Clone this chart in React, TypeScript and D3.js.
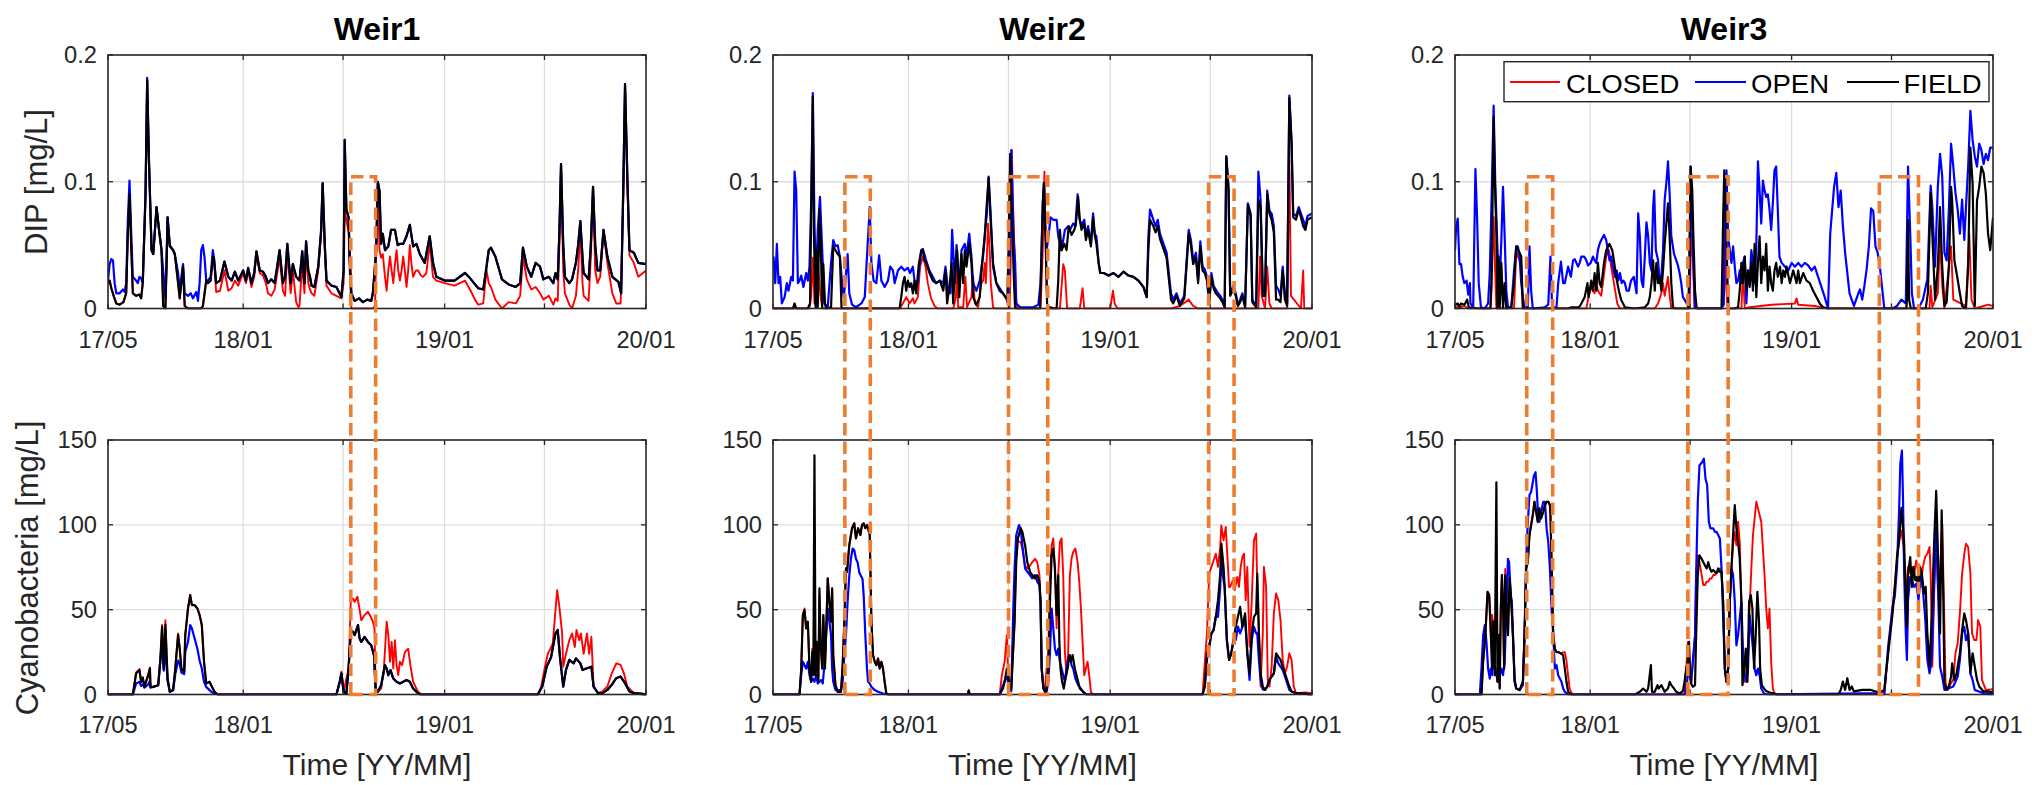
import React from 'react';
import * as d3 from 'd3';

type P = [number, number];

// time axis: values are [days since 2017-05-01, value]
const START = new Date(2017, 4, 1);
const END = new Date(2020, 0, 1);
const X_TICKS = [new Date(2017, 4, 1), new Date(2018, 0, 1), new Date(2018, 6, 1), new Date(2019, 0, 1), new Date(2019, 6, 1), new Date(2020, 0, 1)];
const X_TICK_LABELS = ['17/05', '18/01', '', '19/01', '', '20/01'];
const DIP_TICKS = [0, 0.1, 0.2];
const DIP_TICK_LABELS = ['0', '0.1', '0.2'];
const CYANO_TICKS = [0, 50, 100, 150];
const CYANO_TICK_LABELS = ['0', '50', '100', '150'];
const WEIRS = ['Weir1', 'Weir2', 'Weir3'];
const SERIES = ['CLOSED', 'OPEN', 'FIELD'];
const SERIES_COLORS = ['#ff0000', '#0000ff', '#000000'];

// ---------------- Weir1 DIP ----------------
const W1_DIP_FIELD: P[] = [[0,0.02],[3,0.022],[6,0.016],[11,0.009],[15,0.004],[21,0.003],[28,0.005],[33,0.012],[36,0.06],[39,0.09],[42,0.05],[45,0.012],[51,0.01],[57,0.011],[60,0.008],[63,0.02],[68,0.09],[71,0.18],[74,0.12],[79,0.046],[82,0.043],[88,0.08],[93,0.06],[97,0.046],[100,0.002],[104,0],[106,0.03],[108,0.072],[112,0.049],[118,0.046],[121,0.043],[127,0.02],[130,0.008],[136,0.033],[139,0.002],[145,0],[169,0],[172,0.002],[178,0.022],[181,0.02],[186,0.022],[190,0.041],[192,0.04],
[196,0.02],[203,0.022],[211,0.037],[218,0.025],[224,0.022],[230,0.029],[236,0.022],[245,0.03],[250,0.022],[254,0.032],[260,0.02],[265,0.028],[269,0.045],[275,0.03],[281,0.029],[286,0.025],[290,0.02],[296,0.023],[302,0.02],[311,0.046],[317,0.02],[321,0.025],[325,0.051],[331,0.02],[335,0.035],[341,0.025],[347,0.022],[352,0.045],[356,0.02],[359,0.053],[363,0.03],[366,0.025],[369,0.018],[374,0.017],[381,0.033],[386,0.06],[389,0.099],[393,0.049],[396,0.022],[405,0.018],[414,0.017],[423,0.009],[427,0.03],[429,0.133],[432,0.078],[436,0.072],[438,0.041],[441,0.012],[447,0.006],[455,0.008],[462,0.005],[470,0.007],[477,0.006],[480,0.012],[486,0.046],[489,0.1],[492,0.093],[495,0.051],[498,0.059],[502,0.046],[508,0.049],[513,0.062],[520,0.062],[525,0.05],[529,0.051],[535,0.051],[541,0.057],[547,0.066],[553,0.049],[559,0.051],[565,0.043],[574,0.036],[583,0.057],[589,0.036],[595,0.025],[610,0.022],[628,0.022],[647,0.028],[656,0.024],[671,0.016],[680,0.015],[686,0.033],[690,0.046],[694,0.048],[702,0.041],[714,0.023],[726,0.019],[739,0.017],[747,0.02],[752,0.048],[759,0.033],[767,0.025],[775,0.036],[783,0.033],[789,0.023],[799,0.025],[807,0.02],[811,0.028],[815,0.023],[818,0.06],[821,0.114],[825,0.05],[828,0.025],[836,0.02],[841,0.023],[848,0.036],[852,0.05],[856,0.069],[860,0.04],[862,0.028],[871,0.023],[875,0.05],[879,0.096],[883,0.05],[887,0.03],[892,0.03],[898,0.062],[905,0.041],[914,0.025],[925,0.021],[930,0.012],[934,0.1],[937,0.177],[941,0.107],[945,0.046],[953,0.044],[961,0.036],[975,0.035]];

const W1_DIP_OPEN: P[] = [[0,0.022],[3,0.035],[6,0.039],[9,0.038],[12,0.02],[15,0.012],[21,0.012],[27,0.015],[30,0.013],[33,0.02],[36,0.07],[39,0.101],[42,0.06],[45,0.025],[51,0.022],[54,0.02],[57,0.025],[60,0.024],[63,0.02],[68,0.09],[71,0.182],[74,0.12],[79,0.046],[82,0.043],[88,0.08],[93,0.06],[97,0.046],[100,0.03],[104,0.008],[108,0.072],[112,0.05],[118,0.046],[121,0.043],[127,0.028],[130,0.015],[136,0.035],[139,0.012],[145,0.01],[150,0.012],[154,0.008],[160,0.013],[163,0.006],[166,0.02],[169,0.046],[172,0.05],[175,0.04],[178,0.022],[181,0.022],[186,0.025],[190,0.046],[192,0.04],
[196,0.02],[203,0.022],[211,0.037],[218,0.025],[224,0.022],[230,0.029],[236,0.022],[245,0.03],[250,0.022],[254,0.032],[260,0.02],[265,0.028],[269,0.045],[275,0.03],[281,0.029],[286,0.025],[290,0.02],[296,0.023],[302,0.02],[311,0.046],[317,0.02],[321,0.025],[325,0.051],[331,0.02],[335,0.035],[341,0.025],[347,0.022],[352,0.045],[356,0.02],[359,0.053],[363,0.03],[366,0.025],[369,0.018],[374,0.017],[381,0.033],[386,0.06],[389,0.099],[393,0.049],[396,0.022],[405,0.018],[414,0.017],[423,0.009],[427,0.03],[429,0.133],[432,0.078],[436,0.072],[438,0.041],[441,0.012],[447,0.006],[455,0.008],[462,0.005],[470,0.007],[477,0.006],[480,0.012],[486,0.046],[489,0.1],[492,0.093],[495,0.051],[498,0.059],[502,0.046],[508,0.049],[513,0.062],[520,0.062],[525,0.05],[529,0.051],[535,0.051],[541,0.057],[547,0.066],[553,0.049],[559,0.051],[565,0.043],[574,0.036],[583,0.057],[589,0.036],[595,0.025],[610,0.022],[628,0.022],[647,0.028],[656,0.024],[671,0.016],[680,0.015],[686,0.033],[690,0.046],[694,0.048],[702,0.041],[714,0.023],[726,0.019],[739,0.017],[747,0.02],[752,0.048],[759,0.033],[767,0.025],[775,0.036],[783,0.033],[789,0.023],[799,0.025],[807,0.02],[811,0.028],[815,0.023],[818,0.06],[821,0.114],[825,0.05],[828,0.025],[836,0.02],[841,0.023],[848,0.036],[852,0.05],[856,0.069],[860,0.04],[862,0.028],[871,0.023],[875,0.05],[879,0.096],[883,0.05],[887,0.03],[892,0.03],[898,0.062],[905,0.041],[914,0.025],[925,0.021],[930,0.012],[934,0.1],[937,0.177],[941,0.107],[945,0.046],[953,0.044],[961,0.036],[975,0.035]];

const W1_DIP_CLOSED: P[] = [[0,0.02],[3,0.022],[6,0.016],[11,0.009],[15,0.004],[21,0.003],[28,0.005],[33,0.012],[36,0.06],[39,0.09],[42,0.05],[45,0.012],[51,0.01],[57,0.011],[60,0.008],[63,0.02],[68,0.09],[71,0.18],[74,0.12],[79,0.046],[82,0.043],[88,0.08],[93,0.06],[97,0.046],[100,0.002],[104,0],[106,0.03],[108,0.072],[112,0.049],[118,0.046],[121,0.043],[127,0.02],[130,0.008],[136,0.033],[139,0.002],[145,0],[169,0],[172,0.002],[178,0.022],[181,0.02],[186,0.022],[190,0.041],[192,0.04],
[196,0.013],[203,0.014],[211,0.03],[218,0.014],[224,0.016],[230,0.022],[236,0.018],[245,0.028],[250,0.02],[254,0.03],[260,0.017],[265,0.025],[269,0.043],[275,0.028],[281,0.026],[286,0.02],[290,0.012],[296,0.01],[302,0.015],[311,0.04],[317,0.014],[321,0.01],[325,0.045],[331,0.012],[335,0.03],[341,0.005],[345,0.001],[347,0.002],[352,0.035],[356,0.012],[359,0.045],[363,0.02],[366,0.015],[369,0.012],[374,0.01],[381,0.03],[386,0.058],[389,0.085],[393,0.045],[396,0.018],[405,0.012],[414,0.01],[423,0.008],[427,0.02],[429,0.078],[432,0.07],[436,0.06],[438,0.03],[441,0],[480,0],[484,0.002],[486,0.046],[489,0.095],[492,0.046],[495,0.04],[498,0.043],[502,0.025],[505,0.014],[508,0.03],[511,0.041],[514,0.03],[517,0.02],[520,0.035],[523,0.046],[526,0.03],[529,0.022],[532,0.03],[535,0.041],[538,0.03],[541,0.017],[544,0.03],[547,0.05],[550,0.035],[553,0.025],[558,0.03],[562,0.03],[567,0.026],[571,0.025],[577,0.028],[583,0.052],[589,0.025],[595,0.022],[610,0.02],[628,0.018],[647,0.022],[656,0.015],[665,0.007],[671,0.003],[680,0.004],[686,0.03],[690,0.02],[694,0.017],[702,0.007],[714,0],[726,0.005],[739,0.004],[747,0.01],[752,0.041],[759,0.023],[767,0.015],[775,0.017],[783,0.012],[789,0.007],[799,0.01],[807,0.003],[811,0.008],[815,0.006],[818,0.05],[821,0.11],[825,0.03],[828,0.012],[836,0.003],[841,0],[848,0.01],[852,0.03],[856,0.062],[860,0.02],[862,0.01],[871,0.006],[875,0.04],[879,0.093],[883,0.03],[887,0.02],[892,0.025],[898,0.06],[905,0.036],[914,0.012],[921,0.004],[929,0.004],[934,0.09],[937,0.175],[941,0.1],[945,0.042],[953,0.036],[961,0.025],[975,0.03]];

// ---------------- Weir1 Cyanobacteria ----------------
const W1_CY_FIELD: P[] = [[0,0],[45,0],[51,12.4],[57,14.4],[60,7.5],[63,10],[66,4.5],[73,11.4],[76,15.3],[77,4.5],[82,4.5],[91,5.5],[95,21],[98,40],[101,15.3],[104,41],[108,9.4],[112,1.6],[118,2.6],[122,15.3],[127,35],[130,27],[133,15.3],[138,13.4],[140,35],[145,50.7],[149,58.6],[152,52.7],[157,52.7],[162,50.7],[166,46.8],[170,40.9],[174,19.3],[178,6.5],[184,7.5],[187,5.5],[193,1.6],[199,0],[414,0],[420,7.5],[423,12.4],[427,1.6],[432,0.6],[436,15.3],[440,37],[444,37],[447,35],[453,40.9],[456,33],[459,31],[465,34],[471,31],[477,29],[482,23.2],[485,3.5],[489,1.6],[495,5.5],[502,17.3],[505,15.3],[508,11.4],[512,14.4],[517,9.4],[523,7.5],[529,6.5],[535,7.5],[541,8.5],[547,7.5],[553,3.5],[559,1.6],[565,0],[779,0],[787,4.7],[795,16.4],[803,22],[811,36],[815,38],[819,22.3],[825,4.7],[830,14.5],[836,20.4],[844,18.4],[848,21.3],[856,18.4],[860,14.5],[868,15.5],[876,16.4],[880,4.7],[888,0.8],[896,0.8],[905,2.7],[913,5.7],[921,9.6],[929,10.6],[937,6.7],[945,1.8],[953,0.8],[969,0.4],[975,0]];

const W1_CY_OPEN: P[] = [[0,0],[45,0],[51,6.5],[57,7.5],[60,5],[63,6],[66,4],[73,6],[76,8],[77,4],[82,4.5],[91,5.5],[95,20],[98,31],[101,14],[104,27],[108,8],[112,1.6],[118,2.6],[122,12],[127,20],[130,18],[133,13],[138,12],[140,25],[145,31],[149,40.9],[152,39],[157,33],[162,27],[166,20],[170,15.3],[174,7.5],[178,4.5],[184,2.6],[187,1.6],[193,0.6],[199,0],[414,0],[420,7.5],[423,12.4],[427,1.6],[432,0.6],[436,15.3],[440,37],[444,37],[447,35],[453,40.9],[456,33],[459,31],[465,34],[471,31],[477,29],[482,23.2],[485,3.5],[489,1.6],[495,5.5],[502,17.3],[505,15.3],[508,11.4],[512,14.4],[517,9.4],[523,7.5],[529,6.5],[535,7.5],[541,8.5],[547,7.5],[553,3.5],[559,1.6],[565,0],[779,0],[787,4.7],[795,16.4],[803,22],[811,36],[815,38],[819,22.3],[825,4.7],[830,14.5],[836,20.4],[844,18.4],[848,21.3],[856,18.4],[860,14.5],[868,15.5],[876,16.4],[880,4.7],[888,0.8],[896,0.8],[905,2.7],[913,5.7],[921,9.6],[929,10.6],[937,6.7],[945,1.8],[953,0.8],[969,0.4],[975,0]];

const W1_CY_CLOSED: P[] = [[0,0],[45,0],[51,13],[57,15],[60,7.5],[63,10],[66,4.5],[73,12],[76,16],[77,4.5],[82,4.5],[91,5.5],[95,22],[98,41],[101,15.3],[104,43.8],[108,9.4],[112,1.6],[118,2.6],[122,16],[127,36],[130,27],[133,15.3],[138,13.4],[140,35],[145,50.7],[149,58.6],[152,52.7],[157,52.7],[162,50.7],[166,46.8],[170,40.9],[174,19.3],[178,6.5],[184,7.5],[187,5.5],[193,1.6],[199,0],[414,0],[420,7.5],[423,13.4],[427,1.6],[436,15.3],[440,55.6],[444,56.6],[447,54.7],[452,57.6],[456,50],[459,43.8],[465,46.8],[471,48.8],[476,46],[480,43],[483,38.9],[485,3.5],[489,1.6],[495,3.5],[500,15.3],[505,42.9],[508,35],[511,19.3],[514,31],[517,15.3],[520,32],[523,17.3],[526,11.4],[529,19.3],[533,17.3],[538,25],[544,27],[548,17.3],[553,7.5],[559,3.5],[562,1.6],[568,0],[779,0],[785,4.7],[792,16.4],[797,24],[802,27],[806,30],[810,46],[814,61.5],[818,51.7],[823,36],[825,16.4],[830,24],[836,32],[841,36],[846,28],[849,38],[854,32],[857,36],[862,24],[868,36],[872,24],[876,34],[880,4.7],[888,0.8],[896,1.8],[905,4.7],[913,12.5],[921,18.4],[929,17.4],[935,12.5],[941,4.7],[953,0.8],[969,0],[975,0]];

// ---------------- Weir2 DIP ----------------
const W2_DIP_OPEN: P[] = [[1,0.041],[4,0.02],[7,0.051],[10,0.02],[13,0.025],[16,0.004],[21,0.009],[25,0.02],[28,0.014],[33,0.025],[36,0.022],[39,0.108],[42,0.093],[45,0.02],[48,0.022],[51,0.026],[55,0.017],[60,0.028],[63,0.022],[66,0.033],[69,0.083],[72,0.17],[75,0.067],[78,0.02],[81,0.062],[85,0.088],[89,0.046],[93,0.004],[99,0.001],[105,0.036],[109,0.054],[113,0.049],[117,0.05],[121,0.041],[125,0.02],[128,0.009],[131,0.022],[135,0.043],[138,0.012],[143,0.003],[150,0.001],[160,0.004],[166,0.009],[170,0.041],[175,0.08],[178,0.036],[182,0.022],[187,0.02],[192,0.042],[196,0.022],[202,0.017],[208,0.022],[212,0.033],[217,0.03],[220,0.02],[226,0.03],[232,0.033],[238,0.03],[244,0.032],[248,0.028],[253,0.033],[256,0.022],[262,0.02],[268,0.046],[271,0.047],[277,0.038],[283,0.03],[289,0.025],[295,0.02],[302,0.022],[308,0.02],[312,0.033],[317,0.014],[321,0.012],[324,0.062],[329,0.02],[332,0.05],[337,0.017],[341,0.046],[347,0.051],[350,0.041],[355,0.059],[359,0.041],[362,0.02],[368,0.014],[374,0.022],[380,0.041],[385,0.067],[387,0.075],[390,0.104],[394,0.072],[398,0.033],[404,0.02],[410,0.016],[416,0.012],[422,0.008],[425,0.004],[428,0.033],[431,0.125],[435,0.057],[438,0.036],[440,0.004],[447,0.001],[459,0.001],[471,0.001],[480,0.003],[484,0.02],[488,0.083],[490,0.099],[492,0.067],[495,0.046],[499,0.059],[502,0.072],[507,0.07],[513,0.07],[516,0.057],[519,0.051],[522,0.046],[528,0.062],[534,0.065],[537,0.062],[543,0.067],[547,0.065],[551,0.09],[554,0.072],[558,0.065],[563,0.07],[566,0.057],[570,0.065],[575,0.051],[579,0.075],[582,0.059],[585,0.057],[589,0.036],[592,0.028],[598,0.028],[607,0.026],[616,0.028],[625,0.025],[634,0.029],[643,0.026],[652,0.025],[661,0.022],[670,0.017],[676,0.009],[679,0.057],[682,0.078],[688,0.07],[692,0.065],[696,0.07],[700,0.059],[704,0.054],[712,0.044],[720,0.012],[724,0.007],[730,0.012],[736,0.004],[744,0.01],[752,0.062],[756,0.054],[760,0.038],[765,0.044],[769,0.023],[773,0.053],[777,0.033],[781,0.031],[785,0.025],[789,0.007],[793,0.028],[797,0.018],[801,0.015],[805,0.012],[809,0.01],[813,0.007],[817,0.001],[820,0.12],[824,0.096],[827,0.012],[833,0.018],[837,0.012],[841,0.003],[845,0.007],[849,0.012],[854,0.002],[859,0.083],[864,0.075],[867,0.007],[874,0.002],[878,0.108],[882,0.086],[886,0.015],[890,0.012],[894,0.093],[898,0.077],[902,0.075],[906,0.065],[910,0.018],[914,0.015],[918,0.01],[922,0.033],[926,0.012],[930,0.004],[934,0.168],[938,0.133],[941,0.075],[946,0.073],[951,0.08],[955,0.075],[959,0.07],[963,0.065],[967,0.073],[975,0.075]];

const W2_DIP_FIELD: P[] = [[0,0],[36,0],[39,0.004],[42,0],[63,0],[67,0.004],[69,0.072],[72,0.167],[74,0.059],[77,0.001],[79,0.046],[81,0.001],[84,0.078],[86,0.057],[89,0.001],[91,0.035],[94,0.004],[96,0],[105,0.001],[109,0.049],[113,0.046],[117,0.043],[121,0.041],[124,0],[229,0],[232,0.009],[235,0.02],[238,0.025],[241,0.014],[244,0.022],[247,0.017],[250,0.02],[253,0.012],[256,0.022],[259,0.012],[264,0.036],[268,0.045],[271,0.046],[274,0.038],[277,0.036],[283,0.028],[289,0.022],[295,0.02],[302,0.022],[308,0.014],[312,0.03],[315,0.004],[320,0.02],[323,0.036],[326,0.004],[329,0.03],[333,0.046],[337,0.009],[341,0.043],[344,0.02],[347,0.046],[350,0.033],[355,0.051],[359,0.036],[362,0.009],[368,0.003],[374,0.009],[378,0.035],[383,0.057],[386,0.078],[390,0.103],[394,0.067],[398,0.036],[404,0.02],[410,0.014],[416,0.012],[422,0.008],[424,0.009],[426,0.046],[429,0.122],[431,0.086],[433,0.062],[436,0.02],[438,0],[483,0],[486,0.046],[488,0.083],[490,0.099],[493,0.057],[496,0.001],[502,0.001],[507,0],[513,0],[516,0.022],[519,0.062],[522,0.046],[527,0.051],[531,0.046],[535,0.065],[540,0.058],[545,0.062],[548,0.067],[552,0.088],[555,0.07],[558,0.062],[563,0.067],[566,0.054],[570,0.062],[575,0.049],[579,0.072],[582,0.058],[585,0.051],[589,0.036],[592,0.028],[598,0.028],[607,0.026],[616,0.028],[625,0.025],[634,0.029],[643,0.026],[652,0.025],[661,0.022],[670,0.017],[676,0.009],[679,0.046],[682,0.07],[688,0.065],[692,0.06],[696,0.065],[700,0.055],[704,0.05],[712,0.04],[720,0.007],[724,0.004],[730,0.01],[736,0.002],[744,0.008],[752,0.059],[756,0.05],[760,0.035],[765,0.04],[769,0.02],[773,0.049],[777,0.03],[781,0.028],[785,0.022],[789,0.004],[793,0.025],[797,0.016],[801,0.012],[805,0.01],[809,0.008],[813,0.005],[817,0.001],[820,0.12],[824,0.093],[827,0.01],[833,0.015],[837,0.01],[841,0.002],[845,0.005],[849,0.01],[854,0.001],[859,0.082],[864,0.073],[867,0.005],[874,0.001],[878,0.086],[882,0.08],[886,0.01],[890,0.01],[894,0.09],[898,0.075],[902,0.07],[906,0.06],[910,0.007],[914,0.007],[918,0.005],[922,0.03],[926,0.007],[930,0.002],[934,0.166],[938,0.13],[941,0.072],[946,0.07],[951,0.078],[955,0.072],[959,0.065],[963,0.062],[967,0.07],[975,0.072]];

const W2_DIP_CLOSED: P[] = [[0,0],[66,0],[69,0.01],[72,0.04],[75,0.004],[79,0.025],[81,0.035],[84,0.02],[86,0.01],[89,0],[229,0],[235,0.004],[241,0.009],[247,0.004],[253,0.008],[256,0.004],[262,0.009],[266,0.033],[271,0.041],[276,0.033],[280,0.02],[286,0.008],[292,0.002],[298,0],[326,0],[331,0.009],[333,0.041],[335,0.001],[344,0.001],[348,0.025],[351,0.001],[359,0.009],[362,0.025],[365,0.004],[371,0.001],[377,0.02],[380,0.022],[383,0.036],[385,0.02],[387,0.043],[389,0.067],[392,0.046],[394,0.02],[398,0.001],[402,0],[428,0],[430,0.036],[432,0.125],[434,0.086],[436,0.057],[439,0.014],[441,0],[484,0],[488,0.046],[491,0.108],[493,0.057],[496,0],[519,0],[525,0.035],[528,0.03],[532,0],[555,0],[560,0.016],[563,0],[610,0],[615,0.014],[618,0.004],[623,0],[720,0],[736,0.002],[752,0.007],[760,0.002],[769,0],[878,0],[881,0.041],[884,0.01],[890,0],[894,0.033],[898,0.004],[902,0],[930,0],[934,0.117],[937,0.01],[955,0],[959,0.03],[961,0],[975,0]];

// ---------------- Weir2 Cyanobacteria ----------------
const W2_CY_FIELD: P[] = [[0,0],[48,0],[51,15],[54,46.8],[57,49.7],[60,38.9],[63,42.9],[66,15.3],[69,7.5],[71,25],[73,11.4],[75,141],[77,11.4],[79,31],[82,7.5],[84,62.5],[86,31],[89,15.3],[91,46.8],[94,15.3],[96,35],[99,68.4],[102,54.7],[105,42.9],[107,62.5],[109,23.2],[113,5.5],[117,1.6],[123,1.6],[126,17.3],[129,42.9],[132,74.3],[134,72.3],[138,88],[143,98],[147,100.9],[150,92],[154,98],[158,94],[161,99.9],[164,100.9],[167,98],[170,99.9],[172,98],[175,94],[178,42.9],[181,23.2],[184,19.3],[187,17.3],[190,21.2],[193,15.3],[196,19.3],[199,15.3],[202,7.5],[205,0.6],[208,0],[352,0],[354,2.5],[356,0],[410,0],[416,3.5],[419,7.5],[423,15.3],[425,11.4],[428,5.5],[431,3.5],[437,42.9],[440,78],[443,92],[448,98],[451,95.9],[456,88],[460,78],[465,72.3],[469,70.4],[474,68.4],[478,70.4],[482,66.5],[484,54.7],[486,15.3],[489,3.5],[492,1.6],[495,3.5],[498,15.3],[501,54.7],[504,82],[507,86],[510,74.3],[513,46.8],[516,70.4],[518,31],[520,15.3],[523,7.5],[526,3.5],[530,11.4],[533,15.3],[536,23.2],[539,19.3],[542,23.2],[546,15.3],[549,11.4],[552,7.5],[555,3.5],[561,1.6],[567,0],[777,0],[781,4.7],[785,24.3],[789,28.2],[793,36],[797,38],[801,45.8],[805,55.6],[809,71.3],[811,88.9],[815,75.2],[817,63.4],[821,32.1],[825,20.4],[829,24.3],[833,32.1],[837,39.9],[841,45.8],[845,51.7],[849,39.9],[854,47.8],[858,24.3],[862,12.5],[866,36],[870,45.8],[874,47.8],[876,71.3],[879,36],[882,12.5],[886,4.7],[890,2.7],[894,4.7],[898,8.6],[902,10.6],[906,12.5],[910,24.3],[914,22.3],[918,20.4],[922,16.4],[926,12.5],[930,8.6],[934,4.7],[938,1.8],[946,0.8],[963,0.4],[975,0]];

const W2_CY_OPEN: P[] = [[0,0],[48,0],[51,11.4],[54,19.3],[57,17.3],[60,15.3],[63,19.3],[66,11.4],[69,7.5],[72,9.4],[75,7.5],[78,11.4],[81,6.5],[84,7.5],[87,8.5],[90,6.5],[93,17.3],[96,35],[99,50.7],[102,42.9],[105,35],[107,15.3],[109,7.5],[113,2.6],[123,2.6],[126,7.5],[129,23.2],[132,35],[135,55],[138,70],[141,80],[144,86],[147,85],[150,80],[153,78],[156,72],[159,70],[162,68],[164,58.6],[167,35],[170,15.3],[172,7.5],[175,6.5],[178,4.5],[184,2.6],[190,1.6],[199,0.6],[208,0],[410,0],[423,11.4],[425,7.5],[431,2],[435,54.7],[437,74.3],[440,94],[445,99.9],[448,97.9],[451,88],[456,74.3],[460,72.3],[465,70.4],[469,68.4],[474,70.4],[478,66.5],[482,64.5],[484,52.7],[486,15.3],[489,5.5],[492,1.6],[495,1.6],[498,7.5],[501,25],[504,50.7],[507,39],[510,27],[513,23.2],[516,27],[519,19.3],[522,15.3],[525,11.4],[528,7.5],[531,15.3],[534,21.2],[537,23.2],[540,17.3],[543,15.3],[547,9.4],[552,5.5],[561,1.6],[567,0],[777,0],[781,4.7],[785,20.4],[789,28.2],[793,36],[797,38],[801,45.8],[805,45.8],[809,63.4],[811,79],[815,67.4],[817,63.4],[821,32.1],[825,20.4],[829,24.3],[833,32.1],[837,32.1],[841,40],[845,36],[849,39.9],[854,43.9],[858,24.3],[862,8.6],[866,32.1],[870,39.9],[874,36],[876,36],[879,20],[882,8.6],[886,3],[890,2.7],[894,4.7],[898,8.6],[902,10.6],[906,12.5],[910,22.3],[914,18.4],[918,16.4],[922,14.5],[926,10.6],[930,6.7],[934,2.7],[938,1.8],[946,0.8],[963,0.4],[975,0]];

const W2_CY_CLOSED: P[] = [[0,0],[48,0],[51,15],[54,46.8],[57,50.7],[60,38.9],[63,42.9],[66,15.3],[69,7.5],[71,27],[73,11.4],[75,15.3],[77,11.4],[79,31],[82,7.5],[84,58.6],[86,31],[89,15.3],[91,46.8],[94,15.3],[96,35],[99,68.4],[102,54.7],[105,42.9],[107,62.5],[109,23.2],[113,5.5],[117,1.6],[123,1.6],[126,17.3],[129,42.9],[132,74.3],[134,72.3],[138,88],[143,98],[147,100.9],[150,92],[154,98],[158,94],[161,99.9],[164,100.9],[167,98],[170,99.9],[172,98],[175,94],[178,42.9],[181,23.2],[184,19.3],[187,17.3],[190,21.2],[193,15.3],[196,19.3],[199,15.3],[202,7.5],[205,0.6],[208,0],[410,0],[414,11.4],[419,19.3],[423,35],[425,15.3],[428,3.5],[431,3.5],[437,42.9],[440,88],[443,90],[448,90],[451,86],[456,76],[460,74.3],[465,76],[469,78],[474,80],[478,78],[482,70.4],[484,54.7],[486,15.3],[489,3.5],[492,3.5],[495,15.3],[498,25],[501,70.4],[504,88],[507,92],[510,74.3],[513,39],[516,70.4],[519,90],[522,92],[525,70.4],[528,25],[531,11.4],[534,25],[537,70.4],[540,80],[543,84],[547,86],[551,78],[554,66.5],[557,50.7],[560,31],[563,11.4],[566,15.3],[569,19.3],[572,11.4],[575,1.6],[579,0],[777,0],[781,18.4],[785,36],[789,71.3],[793,75.2],[797,79],[801,83],[805,75.2],[809,87],[811,99.7],[815,90.9],[819,98.7],[822,81],[825,63.4],[827,63.4],[832,67.4],[835,61.5],[840,69.3],[843,63.4],[846,75.2],[849,81],[852,83],[855,55.6],[858,75.2],[862,28.2],[866,55.6],[870,90.9],[874,94.8],[876,63.4],[879,36],[882,4.7],[886,36],[888,75.2],[892,63.4],[895,8.6],[898,4.7],[902,16.4],[906,47.8],[910,59.5],[914,55.6],[918,43.9],[922,20.4],[926,12.5],[930,16.4],[934,24.3],[938,20.4],[942,4.7],[946,0.8],[963,1.2],[975,0.8]];

// ---------------- Weir3 DIP ----------------
const W3_DIP_OPEN: P[] = [[0,0.046],[2,0.064],[5,0.071],[8,0.035],[11,0.035],[14,0.025],[17,0.02],[21,0.022],[24,0.011],[27,0.02],[28,0.004],[33,0.001],[37,0.11],[40,0.072],[43,0.02],[47,0.001],[54,0],[60,0.004],[63,0.028],[67,0.099],[70,0.16],[73,0.099],[77,0.046],[81,0.02],[84,0.054],[87,0.096],[90,0.057],[93,0.014],[96,0.001],[102,0.001],[107,0.03],[111,0.049],[114,0.049],[117,0.041],[120,0.02],[123,0.009],[126,0.001],[132,0.001],[135,0.049],[138,0.014],[141,0],[163,0.001],[169,0.003],[173,0.041],[176,0.001],[184,0.001],[187,0.02],[192,0.037],[196,0.02],[199,0.02],[205,0.033],[210,0.025],[214,0.038],[217,0.039],[223,0.033],[226,0.036],[229,0.041],[234,0.041],[238,0.038],[241,0.034],[246,0.036],[250,0.041],[253,0.038],[256,0.036],[259,0.046],[262,0.051],[265,0.054],[270,0.058],[274,0.054],[277,0.046],[280,0.038],[283,0.041],[286,0.033],[290,0.025],[293,0.03],[296,0.022],[299,0.028],[302,0.02],[305,0.022],[308,0.02],[311,0.014],[315,0.014],[319,0.022],[324,0.025],[329,0.012],[332,0.075],[335,0.057],[338,0.022],[341,0.017],[344,0.041],[347,0.068],[350,0.057],[353,0.036],[356,0.03],[359,0.079],[361,0.093],[364,0.046],[368,0.038],[371,0.02],[374,0.025],[377,0.046],[380,0.086],[383,0.099],[386,0.116],[389,0.09],[392,0.057],[397,0.043],[401,0.038],[404,0.034],[407,0.028],[410,0.02],[413,0.009],[416,0.007],[420,0.004],[423,0.001],[425,0.02],[427,0.112],[430,0.062],[435,0.001],[441,0],[483,0],[487,0.003],[490,0.088],[492,0.109],[495,0.057],[498,0.046],[501,0.036],[504,0.049],[507,0.033],[510,0.02],[513,0.022],[516,0.03],[519,0.02],[522,0.036],[525,0.041],[528,0.004],[531,0.03],[534,0.02],[537,0.046],[540,0.036],[543,0.02],[546,0.049],[549,0.116],[552,0.093],[555,0.067],[558,0.101],[561,0.093],[564,0.088],[567,0.09],[570,0.078],[573,0.062],[576,0.083],[579,0.109],[582,0.112],[585,0.078],[588,0.041],[592,0.036],[598,0.033],[604,0.03],[610,0.036],[616,0.033],[622,0.036],[628,0.033],[634,0.036],[640,0.034],[646,0.03],[652,0.033],[658,0.025],[664,0.017],[670,0.009],[676,0],[680,0.059],[683,0.075],[687,0.096],[691,0.107],[695,0.08],[699,0.093],[703,0.065],[707,0.044],[711,0.028],[715,0.012],[723,0.002],[731,0.012],[734,0.015],[738,0.007],[742,0.018],[746,0.031],[750,0.049],[754,0.079],[758,0.077],[762,0.049],[766,0.044],[770,0.033],[778,0],[793,0],[801,0.002],[809,0.007],[817,0.004],[821,0.112],[825,0.059],[828,0.012],[832,0],[840,0],[848,0.007],[856,0.023],[862,0.097],[865,0.08],[870,0.033],[875,0.096],[879,0.122],[883,0.104],[887,0.044],[891,0.038],[895,0.078],[899,0.13],[903,0.112],[907,0.091],[911,0.078],[915,0.059],[919,0.086],[923,0.054],[926,0.08],[930,0.112],[934,0.156],[938,0.133],[942,0.12],[946,0.112],[950,0.13],[954,0.125],[958,0.114],[962,0.122],[966,0.117],[970,0.127],[975,0.127]];

const W3_DIP_FIELD: P[] = [[0,0.003],[5,0.004],[8,0.001],[11,0.004],[17,0.003],[22,0.007],[25,0.001],[42,0],[64,0],[66,0.02],[67,0.046],[70,0.151],[72,0.104],[75,0.059],[77,0],[79,0.041],[81,0],[84,0.036],[87,0],[90,0.02],[93,0],[102,0.001],[107,0.02],[111,0.049],[115,0.046],[120,0.041],[123,0],[205,0],[211,0.001],[225,0.001],[229,0.004],[235,0.009],[240,0.02],[242,0.009],[247,0.022],[250,0.014],[253,0.028],[256,0.014],[259,0.036],[262,0.02],[265,0.017],[270,0.036],[274,0.046],[280,0.051],[285,0.046],[288,0.038],[292,0.025],[297,0.014],[301,0.007],[308,0.001],[326,0],[344,0.001],[350,0.004],[353,0.009],[356,0.02],[359,0.038],[362,0.014],[365,0.036],[368,0.02],[371,0.025],[374,0.014],[377,0.03],[380,0.051],[383,0.067],[386,0.083],[389,0.057],[392,0.02],[395,0.001],[399,0],[423,0],[425,0.046],[427,0.112],[430,0.093],[432,0.057],[435,0.014],[438,0],[483,0],[486,0.072],[488,0.109],[491,0.072],[494,0.02],[496,0],[507,0],[513,0.001],[516,0.014],[519,0.036],[522,0.02],[525,0.041],[528,0.014],[531,0.03],[534,0.017],[537,0.036],[540,0.014],[543,0.051],[546,0.009],[549,0.036],[552,0.057],[555,0.02],[558,0.041],[561,0.03],[564,0.051],[567,0.014],[570,0.033],[573,0.02],[576,0.014],[579,0.03],[582,0.036],[585,0.025],[589,0.033],[592,0.02],[595,0.03],[598,0.025],[601,0.033],[607,0.02],[613,0.03],[619,0.02],[622,0.03],[625,0.02],[631,0.028],[637,0.022],[643,0.02],[649,0.014],[655,0.009],[661,0.004],[667,0.001],[676,0],[818,0],[819,0.007],[821,0.07],[823,0.007],[826,0],[853,0],[857,0.012],[862,0.091],[865,0.059],[870,0.007],[875,0.033],[879,0.08],[883,0.033],[887,0.002],[891,0.005],[895,0.033],[899,0.096],[901,0.085],[905,0.038],[909,0.028],[915,0.012],[919,0.002],[926,0],[930,0.033],[934,0.127],[938,0.099],[942,0.002],[946,0.085],[950,0.096],[954,0.112],[958,0.107],[962,0.091],[966,0.059],[970,0.046],[975,0.072]];

const W3_DIP_CLOSED: P[] = [[0,0],[8,0.003],[11,0.001],[17,0.002],[25,0],[65,0],[70,0.072],[72,0.04],[75,0],[107,0],[111,0.046],[115,0.04],[120,0.035],[123,0],[238,0],[242,0.009],[247,0.017],[253,0.012],[256,0.022],[259,0.014],[262,0.012],[265,0.01],[268,0.02],[274,0.041],[279,0.046],[283,0.033],[288,0.02],[294,0.004],[299,0],[362,0],[368,0.004],[374,0.012],[377,0.02],[380,0.01],[386,0.025],[389,0.01],[392,0],[425,0],[428,0.059],[431,0.04],[434,0],[484,0],[486,0.04],[489,0.083],[491,0.02],[494,0],[519,0],[522,0.03],[525,0],[534,0.001],[574,0.003],[616,0.004],[619,0.008],[622,0.003],[652,0.002],[676,0],[860,0],[862,0.018],[865,0.001],[875,0.012],[879,0.054],[883,0.018],[887,0],[895,0.033],[899,0.049],[903,0.007],[926,0.002],[932,0.059],[936,0.007],[942,0],[958,0.002],[966,0.003],[975,0.002]];

// ---------------- Weir3 Cyanobacteria ----------------
const W3_CY_FIELD: P[] = [[0,0],[48,0],[51,19.3],[55,35],[59,60.5],[62,58.6],[65,35],[67,15.3],[69,42.9],[72,11.4],[75,125],[77,7.5],[79,35],[81,3.5],[83,50.7],[85,70.4],[87,54.7],[89,15.3],[91,70.4],[94,46.8],[96,35],[99,68.4],[102,54.7],[105,35],[108,7.5],[111,3.5],[117,2.6],[123,7.5],[126,35],[129,74.3],[132,78],[135,94],[138,99.9],[141,105.8],[144,113.6],[147,107.7],[150,101.8],[153,109.7],[156,103.8],[160,107.7],[163,111.7],[166,113.6],[169,113.6],[172,111.7],[173,105.8],[176,64.5],[178,35],[181,27],[184,25],[187,25],[193,24],[196,23.2],[199,15.3],[202,7.5],[205,1.6],[211,0],[326,0],[335,1.6],[341,3.5],[347,1.6],[350,3.5],[355,17.3],[357,1.6],[362,1.6],[367,5.5],[369,3.5],[374,5.5],[380,1.6],[386,3.5],[389,7.5],[392,5.5],[397,3.5],[401,1.6],[407,0.6],[413,2],[416,7.5],[419,15.3],[422,19.3],[424,31],[426,11.4],[428,6.5],[431,4.5],[435,5.5],[437,35],[440,70.4],[443,82],[447,80],[450,78],[453,76],[456,74.3],[459,78],[462,74.3],[465,72.3],[468,73.3],[471,72.3],[474,71.4],[477,74.3],[480,72.3],[483,72.3],[486,54.7],[489,15.3],[492,7.5],[495,15.3],[498,54.7],[501,74.3],[504,94],[507,111.7],[510,98],[513,90],[516,80],[519,54.7],[521,5.5],[524,15.3],[527,27],[530,7.5],[533,54.7],[536,58.6],[539,50.7],[542,15.3],[545,35],[548,60.5],[551,42.9],[553,15.3],[556,5.5],[560,3.5],[564,2],[570,1.2],[579,0.6],[585,0],[695,0],[699,2.7],[703,7.6],[707,2.7],[711,9.6],[715,2.7],[719,4.7],[723,1.8],[738,2.7],[754,2.7],[762,1.8],[770,1.2],[778,2.7],[781,12.5],[785,24.3],[789,36],[793,47.8],[797,63.4],[801,81],[805,90.9],[809,110],[811,102.6],[814,88.9],[817,55.6],[819,39.9],[821,71.3],[825,81],[828,63.4],[831,75.2],[834,67.4],[837,69.3],[840,61.5],[843,75.2],[846,71.3],[850,59.5],[853,63.4],[856,36],[860,16.4],[864,45.8],[868,86.9],[872,120],[876,75.2],[879,36],[882,108.5],[885,55.6],[887,6.7],[891,2.7],[895,4.7],[899,10.6],[901,18.4],[905,8.6],[909,12.5],[915,24.3],[919,38],[923,47.8],[926,43.9],[930,36],[934,12.5],[938,24.3],[942,16.4],[946,8.6],[950,4.7],[958,1.8],[966,1.8],[975,1.2]];

const W3_CY_OPEN: P[] = [[0,0],[45,0],[48,15.3],[51,35],[54,40.9],[57,31],[60,15.3],[63,9.4],[65,15.3],[67,11.4],[69,27],[72,15.3],[75,11.4],[78,7.5],[81,11.4],[84,15.3],[87,11.4],[90,19.3],[93,48.8],[96,80],[98,78],[101,58.6],[103,54.7],[105,35],[108,9.4],[111,3.5],[117,2.6],[123,5.5],[126,35],[129,80],[132,101.8],[135,117.6],[138,119.5],[143,129],[146,131],[148,121.5],[150,109.7],[153,101.8],[156,107.7],[160,113.6],[163,113.6],[166,97.9],[169,90],[172,74.3],[175,50.7],[178,35],[181,15.3],[184,17.3],[187,11.4],[193,7.5],[196,3.5],[199,1.6],[205,0],[416,0],[419,3.5],[422,11.4],[424,23.2],[428,7.5],[435,35],[437,70.4],[440,113.6],[443,135],[448,137],[451,139],[454,127],[457,123.5],[460,101.8],[463,97.9],[468,97.9],[471,95.9],[474,95.9],[477,94],[480,92],[483,74.3],[486,44.8],[489,15.3],[492,7.5],[495,15.3],[498,54.7],[501,74.3],[504,70.4],[507,54.7],[510,29],[513,35],[516,44.8],[519,54.7],[522,25],[525,11.4],[528,7.5],[531,15.3],[534,46.8],[537,37],[540,27],[543,15.3],[546,11.4],[549,15.3],[552,11.4],[555,3.5],[560,0.6],[567,0],[778,0.8],[781,12.5],[785,28.2],[789,39.9],[793,51.7],[797,57.6],[801,75.2],[805,110],[807,135.9],[810,143.7],[812,114],[814,71.3],[817,36],[819,20.4],[821,55.6],[825,69.3],[828,67.4],[832,63.4],[836,65.4],[840,55.6],[844,71.3],[848,61.5],[852,45.8],[856,20.4],[860,12.5],[864,20.4],[868,63.4],[872,98.7],[876,55.6],[879,16.4],[883,10.6],[887,2.7],[903,4.7],[911,10.6],[915,20.4],[919,36],[923,39.9],[926,32.1],[930,36],[934,12.5],[938,8.6],[942,2.7],[958,0.8],[975,0.4]];

const W3_CY_CLOSED: P[] = [[0,0],[48,0],[51,19.3],[55,35],[59,60.5],[62,58.6],[65,35],[67,47],[69,42.9],[72,11.4],[75,15],[77,7.5],[79,35],[81,3.5],[83,50.7],[85,70.4],[87,54.7],[89,15.3],[91,74],[94,46.8],[96,35],[99,68.4],[102,54.7],[105,35],[108,7.5],[111,3.5],[117,2.6],[123,7.5],[126,35],[129,74.3],[132,78],[135,94],[138,99.9],[141,105.8],[144,113.6],[147,107.7],[150,101.8],[153,109.7],[156,103.8],[160,107.7],[163,111.7],[166,113.6],[169,113.6],[172,111.7],[173,105.8],[176,64.5],[178,35],[181,27],[184,25],[187,25],[193,24],[196,25],[199,25],[202,20],[205,11],[208,3],[213,0],[416,0],[419,15.3],[422,31],[425,11.4],[428,6.5],[435,35],[437,70.4],[440,82],[443,78],[447,70.4],[450,64.5],[453,64.5],[456,66.5],[459,66.5],[462,68.4],[465,68.4],[468,70.4],[471,70.4],[474,72.3],[477,72.3],[480,74.3],[483,72.3],[486,54.7],[489,15.3],[492,7.5],[495,15.3],[498,54.7],[501,74.3],[504,88],[507,95.9],[510,88],[513,101.8],[516,90],[519,54.7],[522,9.4],[525,7.5],[528,11.4],[531,25],[534,50.7],[537,74.3],[540,94],[543,103.8],[546,113.6],[549,109.7],[552,105.8],[555,101.8],[558,86],[561,70.4],[564,50.7],[567,38.9],[570,50.7],[573,19.3],[576,3.5],[579,0.6],[582,0],[778,0],[781,10.6],[785,24.3],[789,38],[793,51.7],[797,63.4],[801,79],[805,90.9],[809,96.7],[813,86.9],[817,55.6],[819,67.4],[821,75.2],[825,71.3],[828,75.2],[832,71.3],[836,79],[840,71.3],[844,63.4],[848,75.2],[852,81],[856,83],[860,86.9],[862,71.3],[865,16.4],[868,55.6],[872,94.8],[876,55.6],[879,71.3],[883,100.6],[886,55.6],[889,6.7],[893,2.7],[899,6.7],[903,8.6],[907,24.3],[911,30.2],[915,47.8],[919,71.3],[923,83],[926,88.9],[930,86.9],[934,71.3],[937,36],[941,32.1],[945,32.1],[948,43.9],[952,39.9],[955,8.6],[962,2.7],[975,3.1]];

// dashed highlight boxes: [start day, end day]
const BOXES_W1: P[] = [[440, 485]];
const BOXES_W2: P[] = [[130, 176], [426, 497], [788, 834]];
const BOXES_W3: P[] = [[130, 177], [422, 495], [769, 840]];
const BOX_TOP_DIP = 0.104;
const BOX_BOTTOM_CYANO = 0;

// ---------------- layout ----------------
const W = 2038, H = 785;
const PANEL_X: [number, number][] = [[108, 646], [773, 1312], [1455, 1993]];
const TOP_Y: [number, number] = [308.5, 55];
const BOT_Y: [number, number] = [694.5, 440];
const FONT = '"Liberation Sans", Arial, Helvetica, sans-serif';
const AX = '#262626';

const DIP_DATA = [
  [W1_DIP_CLOSED, W1_DIP_OPEN, W1_DIP_FIELD],
  [W2_DIP_CLOSED, W2_DIP_OPEN, W2_DIP_FIELD],
  [W3_DIP_CLOSED, W3_DIP_OPEN, W3_DIP_FIELD],
];
const CY_DATA = [
  [W1_CY_CLOSED, W1_CY_OPEN, W1_CY_FIELD],
  [W2_CY_CLOSED, W2_CY_OPEN, W2_CY_FIELD],
  [W3_CY_CLOSED, W3_CY_OPEN, W3_CY_FIELD],
];
const BOXES = [BOXES_W1, BOXES_W2, BOXES_W3];
const LINE_WIDTHS = [1.9, 2.2, 2.2];

const toDate = (d: number) => new Date(START.getTime() + d * 864e5);

function Txt(props: { x: number; y: number; size: number; anchor?: string; sx?: number; weight?: string; fill?: string; rotate?: number; children: any }) {
  const { x, y, size, anchor = 'middle', sx = 1, weight = 'normal', fill = AX, rotate, children } = props;
  const tr = rotate !== undefined ? `translate(${x},${y}) rotate(${rotate})` : `translate(${x},${y}) scale(${sx},1)`;
  return (
    <text transform={tr} textAnchor={anchor as any} fontSize={size} fontFamily={FONT} fontWeight={weight} fill={fill}>
      {children}
    </text>
  );
}

function Axes(props: { idx: number; which: 'dip' | 'cy' }) {
  const { idx, which } = props;
  const [l, r] = PANEL_X[idx];
  const yr = which === 'dip' ? TOP_Y : BOT_Y;
  const x = d3.scaleTime().domain([START, END]).range([l, r]);
  const y = d3.scaleLinear().domain(which === 'dip' ? [0, 0.2] : [0, 150]).range(yr);
  const yTicks = which === 'dip' ? DIP_TICKS : CYANO_TICKS;
  const yLabels = which === 'dip' ? DIP_TICK_LABELS : CYANO_TICK_LABELS;
  const data = which === 'dip' ? DIP_DATA[idx] : CY_DATA[idx];
  const line = d3.line<P>().x((p) => x(toDate(p[0]))).y((p) => y(p[1]));
  const clipId = `clip-${which}-${idx}`;
  const top = yr[1], bot = yr[0];
  const tl = 5;
  const labelY = which === 'dip' ? 348 : 733;
  return (
    <g>
      <defs>
        <clipPath id={clipId}>
          <rect x={l} y={top - 1} width={r - l} height={bot - top + 2} />
        </clipPath>
      </defs>
      <rect x={l} y={top} width={r - l} height={bot - top} fill="#fff" />
      {X_TICKS.slice(1, -1).map((t, i) => (
        <line key={'gx' + i} x1={x(t)} x2={x(t)} y1={top} y2={bot} stroke="#dedede" strokeWidth={1.3} />
      ))}
      {yTicks.slice(1, -1).map((v, i) => (
        <line key={'gy' + i} x1={l} x2={r} y1={y(v)} y2={y(v)} stroke="#dedede" strokeWidth={1.3} />
      ))}
      <g clipPath={`url(#${clipId})`}>
        {data.map((s, i) => (
          <path key={SERIES[i]} d={line(s) || ''} fill="none" stroke={SERIES_COLORS[i]} strokeWidth={LINE_WIDTHS[i]} strokeLinejoin="round" />
        ))}
      </g>
      <rect x={l} y={top} width={r - l} height={bot - top} fill="none" stroke={AX} strokeWidth={1.6} />
      {X_TICKS.map((t, i) => (
        <g key={'tx' + i}>
          <line x1={x(t)} x2={x(t)} y1={bot} y2={bot - tl} stroke={AX} strokeWidth={1.3} />
          <line x1={x(t)} x2={x(t)} y1={top} y2={top + tl} stroke={AX} strokeWidth={1.3} />
          {X_TICK_LABELS[i] && (
            <Txt x={x(t)} y={labelY} size={23} sx={1.03}>{X_TICK_LABELS[i]}</Txt>
          )}
        </g>
      ))}
      {yTicks.map((v, i) => (
        <g key={'ty' + i}>
          <line x1={l} x2={l + tl} y1={y(v)} y2={y(v)} stroke={AX} strokeWidth={1.3} />
          <line x1={r} x2={r - tl} y1={y(v)} y2={y(v)} stroke={AX} strokeWidth={1.3} />
          <Txt x={l - 11} y={y(v) + 8.3} size={23} anchor="end" sx={1.03}>{yLabels[i]}</Txt>
        </g>
      ))}
    </g>
  );
}

function Boxes(props: { idx: number }) {
  const { idx } = props;
  const [l, r] = PANEL_X[idx];
  const x = d3.scaleTime().domain([START, END]).range([l, r]);
  const yT = d3.scaleLinear().domain([0, 0.2]).range(TOP_Y);
  const yB = d3.scaleLinear().domain([0, 150]).range(BOT_Y);
  return (
    <g>
      {BOXES[idx].map((b, i) => {
        const x0 = x(toDate(b[0])), x1 = x(toDate(b[1]));
        const y0 = yT(BOX_TOP_DIP), y1 = yB(BOX_BOTTOM_CYANO);
        const p = d3.path();
        p.moveTo(x0, y1);
        p.lineTo(x0, y0);
        p.lineTo(x1, y0);
        p.lineTo(x1, y1);
        p.closePath();
        return <path key={i} d={p.toString()} fill="none" stroke="#ED7D31" strokeWidth={3.6} strokeDasharray="12.5 6" />;
      })}
    </g>
  );
}

function Legend() {
  const bx = 1504, by = 61.7, bw = 485, bh = 40;
  const items = [
    { x0: 1510, x1: 1560, tx: 1566 },
    { x0: 1695, x1: 1746, tx: 1751 },
    { x0: 1847, x1: 1899, tx: 1903.5 },
  ];
  return (
    <g>
      <rect x={bx} y={by} width={bw} height={bh} fill="#fff" stroke={AX} strokeWidth={1.4} />
      {items.map((it, i) => (
        <g key={SERIES[i]}>
          <line x1={it.x0} x2={it.x1} y1={82} y2={82} stroke={SERIES_COLORS[i]} strokeWidth={1.8} />
          <Txt x={it.tx} y={93} size={26} anchor="start" sx={1.06} fill="#000">{SERIES[i]}</Txt>
        </g>
      ))}
    </g>
  );
}

export default function App() {
  return (
    <svg width={W} height={H} viewBox={`0 0 ${W} ${H}`} style={{ position: 'absolute', left: 0, top: 0, background: '#fff' }}>
      <rect x={0} y={0} width={W} height={H} fill="#fff" />
      {[0, 1, 2].map((i) => (
        <g key={i}>
          <Axes idx={i} which="dip" />
          <Axes idx={i} which="cy" />
          <Txt x={(PANEL_X[i][0] + PANEL_X[i][1]) / 2} y={40} size={32} weight="bold" fill="#000">{WEIRS[i]}</Txt>
          <Txt x={(PANEL_X[i][0] + PANEL_X[i][1]) / 2} y={775} size={30}>Time [YY/MM]</Txt>
        </g>
      ))}
      <Txt x={47} y={182} size={31} rotate={-90}>DIP [mg/L]</Txt>
      <Txt x={38} y={568} size={31} rotate={-90}>Cyanobacteria [mg/L]</Txt>
      <Legend />
      {[0, 1, 2].map((i) => (
        <Boxes key={'b' + i} idx={i} />
      ))}
    </svg>
  );
}
